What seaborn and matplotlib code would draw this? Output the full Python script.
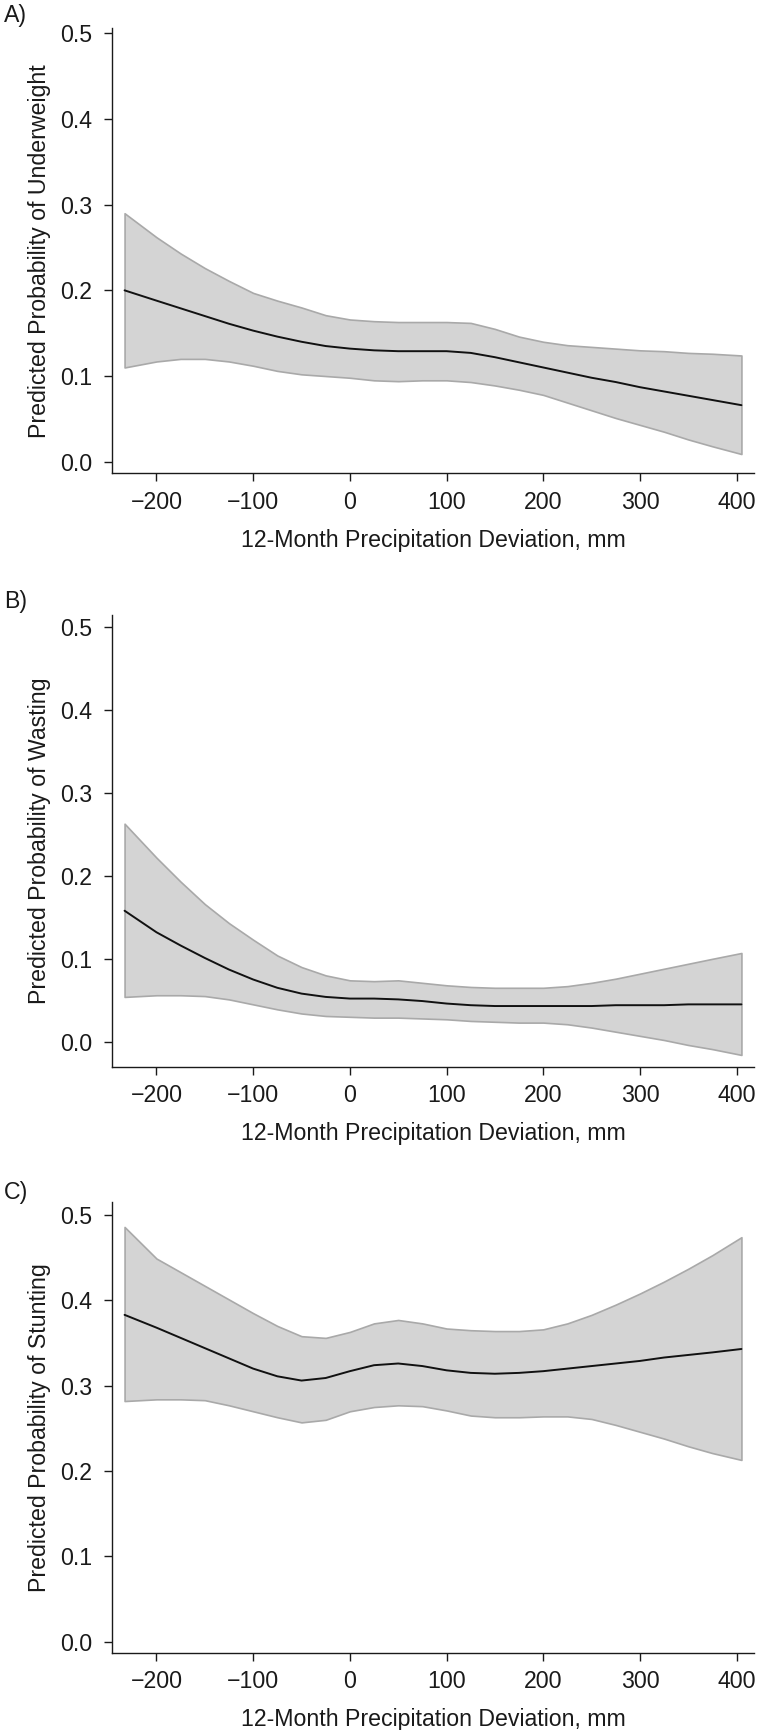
import numpy as np
import pandas as pd
import seaborn as sns
import matplotlib.pyplot as plt

# precipitation deviation (mm) where the curves were read
deviation = [-233, -200, -175, -150, -125, -100, -75, -50, -25, 0, 25, 50, 75,
             100, 125, 150, 175, 200, 225, 250, 275, 300, 325, 350, 375, 405]

# A) underweight
uw_mean = [0.200, 0.188, 0.179, 0.170, 0.161, 0.153, 0.146, 0.140, 0.135, 0.132, 0.130, 0.129, 0.129,
           0.129, 0.127, 0.122, 0.116, 0.110, 0.104, 0.098, 0.093, 0.087, 0.082, 0.077, 0.072, 0.066]
uw_upper = [0.290, 0.262, 0.243, 0.226, 0.211, 0.197, 0.188, 0.180, 0.171, 0.166, 0.164, 0.163, 0.163,
            0.163, 0.162, 0.155, 0.146, 0.140, 0.136, 0.134, 0.132, 0.130, 0.129, 0.127, 0.126, 0.124]
uw_lower = [0.110, 0.117, 0.120, 0.120, 0.117, 0.112, 0.106, 0.102, 0.100, 0.098, 0.095, 0.094, 0.095,
            0.095, 0.093, 0.089, 0.084, 0.078, 0.069, 0.060, 0.051, 0.043, 0.035, 0.026, 0.018, 0.009]

# B) wasting
ws_mean = [0.158, 0.132, 0.116, 0.101, 0.087, 0.075, 0.065, 0.058, 0.054, 0.052, 0.052, 0.051, 0.049,
           0.046, 0.044, 0.043, 0.043, 0.043, 0.043, 0.043, 0.044, 0.044, 0.044, 0.045, 0.045, 0.045]
ws_upper = [0.263, 0.222, 0.193, 0.166, 0.143, 0.123, 0.104, 0.090, 0.080, 0.074, 0.073, 0.074, 0.071,
            0.068, 0.066, 0.065, 0.065, 0.065, 0.067, 0.071, 0.076, 0.082, 0.088, 0.094, 0.100, 0.107]
ws_lower = [0.054, 0.056, 0.056, 0.055, 0.051, 0.045, 0.039, 0.034, 0.031, 0.030, 0.029, 0.029, 0.028,
            0.027, 0.025, 0.024, 0.023, 0.023, 0.021, 0.017, 0.012, 0.007, 0.002, -0.004, -0.009, -0.016]

# C) stunting
st_mean = [0.383, 0.368, 0.356, 0.344, 0.332, 0.320, 0.311, 0.306, 0.309, 0.317, 0.324, 0.326, 0.323,
           0.318, 0.315, 0.314, 0.315, 0.317, 0.320, 0.323, 0.326, 0.329, 0.333, 0.336, 0.339, 0.343]
st_upper = [0.486, 0.449, 0.433, 0.417, 0.401, 0.385, 0.370, 0.358, 0.356, 0.363, 0.373, 0.377, 0.373,
            0.367, 0.365, 0.364, 0.364, 0.366, 0.373, 0.383, 0.395, 0.408, 0.422, 0.437, 0.453, 0.474]
st_lower = [0.282, 0.284, 0.284, 0.283, 0.277, 0.270, 0.263, 0.257, 0.260, 0.270, 0.275, 0.277, 0.276,
            0.271, 0.265, 0.263, 0.263, 0.264, 0.264, 0.261, 0.254, 0.246, 0.238, 0.229, 0.221, 0.213]

panel_letters = ["A)", "B)", "C)"]
outcomes = ["Underweight", "Wasting", "Stunting"]
x_ticks = [-200, -100, 0, 100, 200, 300, 400]
y_ticks = [0.0, 0.1, 0.2, 0.3, 0.4, 0.5]

sns.set_style("ticks")
plt.rcParams['font.family'] = ['Liberation Sans', 'DejaVu Sans']
plt.rcParams['font.size'] = 16.7
plt.rcParams['text.color'] = '#1a1a1a'
plt.rcParams['axes.labelcolor'] = '#1a1a1a'
plt.rcParams['xtick.color'] = '#1a1a1a'
plt.rcParams['ytick.color'] = '#1a1a1a'

fig = plt.figure(figsize=(7.58, 17.30), dpi=100)

# axes boxes in pixels (top, bottom) and y limits per panel
W, H = 758, 1730
boxes = [(28.3, 473.3), (615.0, 1066.7), (1201.7, 1652.7)]
ylims = [(-0.0135, 0.5058), (-0.0302, 0.5148), (-0.0129, 0.5156)]
letter_y = [15.7, 601.5, 1193.0]

series = [(uw_mean, uw_lower, uw_upper),
          (ws_mean, ws_lower, ws_upper),
          (st_mean, st_lower, st_upper)]

for i in range(3):
    top, bot = boxes[i]
    ax = fig.add_axes([112 / W, 1 - bot / H, 642 / W, (bot - top) / H])
    mean, lower, upper = series[i]
    df = pd.DataFrame({"dev": deviation, "mean": mean, "lower": lower, "upper": upper})

    ax.fill_between(df["dev"], df["lower"], df["upper"], facecolor='#d4d4d4',
                    edgecolor='#a9a9a9', linewidth=1.2, zorder=1)
    sns.lineplot(data=df, x="dev", y="mean", ax=ax, color='#111111', linewidth=1.4, zorder=2)

    ax.set_xlim(-246, 418)
    ax.set_ylim(*ylims[i])
    ax.set_xticks(x_ticks)
    ax.set_yticks(y_ticks)
    ax.set_yticklabels(["%.1f" % v for v in y_ticks])
    ax.set_xlabel("12-Month Precipitation Deviation, mm", labelpad=10.8)
    ax.set_ylabel("Predicted Probability of " + outcomes[i], labelpad=7)
    ax.tick_params(axis='both', length=5.5, width=1.0)
    ax.tick_params(axis='x', pad=7)
    ax.tick_params(axis='y', pad=8.5)
    sns.despine(ax=ax)
    for s in ['left', 'bottom']:
        ax.spines[s].set_linewidth(1.0)
        ax.spines[s].set_color('#1a1a1a')

    fig.text(4 / W, 1 - letter_y[i] / H, panel_letters[i], ha='left', va='center')

fig.savefig("out.png", dpi=100)
